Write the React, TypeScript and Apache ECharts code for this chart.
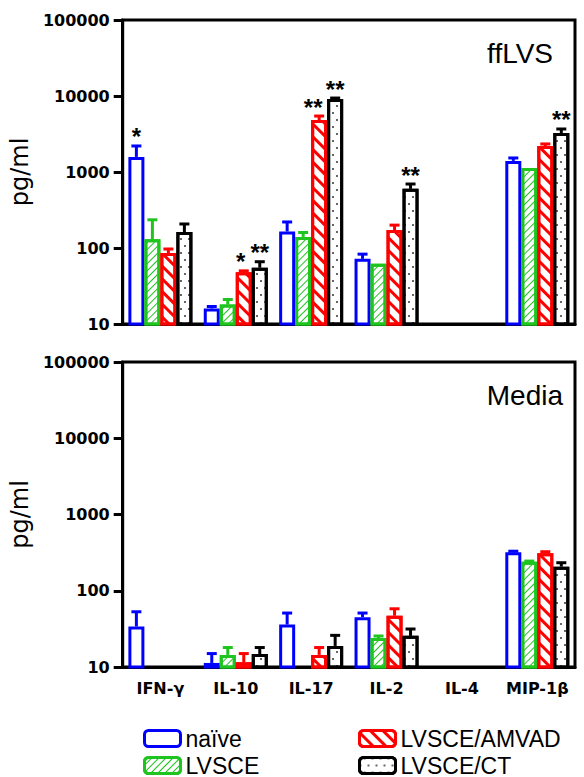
import React, { useEffect, useRef } from "react";
import * as echarts from "echarts";

// ---------- data ----------
const categories = ["IFN-γ", "IL-10", "IL-17", "IL-2", "IL-4", "MIP-1β"];
const groupNames = ["naïve", "LVSCE", "LVSCE/AMVAD", "LVSCE/CT"];
const tickValues = [10, 100, 1000, 10000, 100000];

// ffLVS panel (pg/ml), mean and upper error
const ffNaive = [1580, 16, 165, 72, null, 1400];
const ffNaiveErr = [2200, 17, 220, 83, null, 1530];
const ffLvsce = [130, 18, 140, 62, null, 1130];
const ffLvsceErr = [235, 21, 160, 62, null, 1130];
const ffAmvad = [86, 48, 4830, 172, null, 2200];
const ffAmvadErr = [97, 50, 5450, 200, null, 2340];
const ffCt = [162, 55, 9100, 600, null, 3260];
const ffCtErr = [207, 66, 9400, 695, null, 3680];
const ffStarsNaive = ["*", "", "", "", "", ""];
const ffStarsLvsce = ["", "", "", "", "", ""];
const ffStarsAmvad = ["", "*", "**", "", "", ""];
const ffStarsCt = ["", "**", "**", "**", "", "**"];

// Media panel
const mdNaive = [34, 11.3, 36, 45, null, 320];
const mdNaiveErr = [53, 15, 51, 51, null, 330];
const mdLvsce = [null, 14.4, null, 24, null, 240];
const mdLvsceErr = [null, 18, null, 25.5, null, 245];
const mdAmvad = [null, 11.5, 14.4, 47, null, 310];
const mdAmvadErr = [null, 15, 18, 58, null, 325];
const mdCt = [null, 14.8, 18.9, 25.6, null, 207];
const mdCtErr = [null, 18, 26, 31.5, null, 233];
const noStars = ["", "", "", "", "", ""];

// ---------- styles ----------
const BAR_W = 16;
const colors = ["#0000ff", "#1fc41f", "#ff0000", "#000000"];
const decals: any[] = [
  null,
  { symbol: "rect", symbolSize: 1, color: colors[1], dashArrayX: [1, 0], dashArrayY: [1, 4], rotation: -Math.PI / 4 },
  { symbol: "rect", symbolSize: 1, color: colors[2], dashArrayX: [1, 0], dashArrayY: [3, 6], rotation: Math.PI / 4 },
  { symbol: "rect", symbolSize: 0.8, color: colors[3], dashArrayX: [[2, 6], [0, 4, 2, 2]], dashArrayY: [2, 5], rotation: 0 },
];

const SANS = '"Liberation Sans", Arial, sans-serif';
const DEJA = '"DejaVu Sans", sans-serif';

function buildItems(means: any[][], errs: any[][], stars: string[][]) {
  const items: any[] = [];
  for (let g = 0; g < means.length; g++) {
    for (let c = 0; c < categories.length; c++) {
      const v = means[g][c];
      if (v == null) continue;
      const neighborStar = g + 1 < stars.length && !!stars[g + 1][c];
      items.push({ cat: c, g, val: v, err: errs[g][c], star: stars[g][c], neighborStar });
    }
  }
  return items;
}

function panelSeries(gridIdx: number, means: any[][], errs: any[][], stars: string[][]) {
  const bars = means.map((m, g) => ({
    type: "bar",
    name: groupNames[g],
    xAxisIndex: gridIdx,
    yAxisIndex: gridIdx,
    data: m.map((v) => (v == null ? "-" : v)),
    barWidth: BAR_W,
    barGap: "0%",
    clip: true,
    itemStyle: {
      color: "#ffffff",
      borderColor: colors[g],
      borderWidth: 3,
      decal: decals[g] || undefined,
    },
    emphasis: { disabled: true },
    z: 2,
  }));
  const items = buildItems(means, errs, stars);
  const custom = {
    type: "custom",
    xAxisIndex: gridIdx,
    yAxisIndex: gridIdx,
    data: items.map((it) => [it.cat, it.val, it.err == null ? it.val : it.err]),
    z: 3,
    silent: true,
    renderItem: (params: any, api: any) => {
      const it = items[params.dataIndex];
      const base = api.coord([it.cat, it.val]);
      const x = base[0] + (it.g - 1.5) * BAR_W;
      const col = colors[it.g];
      const children: any[] = [];
      let topY = base[1];
      if (it.err != null && it.err > it.val) {
        const e = api.coord([it.cat, it.err]);
        children.push({ type: "line", shape: { x1: x, y1: base[1], x2: x, y2: e[1] }, style: { stroke: col, lineWidth: 3 } });
        children.push({ type: "line", shape: { x1: x - 5, y1: e[1], x2: x + 5, y2: e[1] }, style: { stroke: col, lineWidth: 3 } });
        topY = e[1];
      }
      if (it.star) {
        const shift = it.neighborStar ? -3 * it.star.length : 0;
        children.push({
          type: "text",
          x: x + shift,
          y: topY - 9,
          style: { text: it.star, fill: "#000", font: `bold 24px ${SANS}`, align: "center", verticalAlign: "middle" },
        });
      }
      return { type: "group", children };
    },
  };
  return [...bars, custom];
}

function yAxisDef(gridIdx: number) {
  return {
    type: "log",
    logBase: 10,
    min: tickValues[0],
    max: tickValues[tickValues.length - 1],
    gridIndex: gridIdx,
    name: "pg/ml",
    nameLocation: "middle",
    nameRotate: 90,
    nameGap: 80,
    nameTextStyle: { fontFamily: DEJA, fontSize: 24, color: "#000" },
    axisLine: { show: true, lineStyle: { color: "#000", width: 3 } },
    axisTick: { show: true, inside: false, length: 9, lineStyle: { color: "#000", width: 3 } },
    minorTick: { show: false },
    splitLine: { show: false },
    axisLabel: {
      margin: 13,
      color: "#000",
      fontFamily: DEJA,
      fontWeight: "bold",
      fontSize: 16,
      formatter: (v: number) => String(Math.round(v)),
    },
  };
}

function xAxisDef(gridIdx: number, showLabels: boolean) {
  return {
    type: "category",
    gridIndex: gridIdx,
    data: categories,
    boundaryGap: true,
    axisLine: { show: true, lineStyle: { color: "#000", width: 3 } },
    axisTick: { show: false },
    splitLine: { show: false },
    axisLabel: {
      show: showLabels,
      interval: 0,
      margin: 13,
      color: "#000",
      fontFamily: DEJA,
      fontWeight: "bold",
      fontSize: 16,
    },
  };
}

function legendDef(name: string, left: number, top: number) {
  return {
    data: [name],
    orient: "vertical",
    left,
    top,
    padding: 0,
    itemWidth: 36,
    itemHeight: 16,
    selectedMode: false,
    itemStyle: { borderWidth: 3 },
    textStyle: { fontFamily: SANS, fontSize: 23, color: "#000", lineHeight: 22 },
  };
}

export default function App() {
  const ref = useRef<HTMLDivElement>(null);
  useEffect(() => {
    if (!ref.current) return;
    const chart = echarts.init(ref.current, null, { renderer: "svg" });
    const gridCommon = { left: 119, right: 9, show: true, borderColor: "#000", borderWidth: 3, backgroundColor: "transparent", containLabel: false };
    const option: any = {
      animation: false,
      backgroundColor: "#ffffff",
      title: [
        { text: "ffLVS", right: 31, top: 39, padding: 0, textStyle: { fontFamily: SANS, fontSize: 28, fontWeight: "normal", color: "#000" } },
        { text: "Media", right: 21, top: 381, padding: 0, textStyle: { fontFamily: SANS, fontSize: 28, fontWeight: "normal", color: "#000" } },
      ],
      legend: [
        legendDef(groupNames[0], 143, 727),
        legendDef(groupNames[1], 143, 754),
        legendDef(groupNames[2], 358, 727),
        legendDef(groupNames[3], 358, 754),
      ],
      grid: [
        { ...gridCommon, top: 20, height: 304 },
        { ...gridCommon, top: 362, height: 305 },
      ],
      xAxis: [xAxisDef(0, false), xAxisDef(1, true)],
      yAxis: [yAxisDef(0), yAxisDef(1)],
      series: [
        ...panelSeries(0, [ffNaive, ffLvsce, ffAmvad, ffCt], [ffNaiveErr, ffLvsceErr, ffAmvadErr, ffCtErr], [ffStarsNaive, ffStarsLvsce, ffStarsAmvad, ffStarsCt]),
        ...panelSeries(1, [mdNaive, mdLvsce, mdAmvad, mdCt], [mdNaiveErr, mdLvsceErr, mdAmvadErr, mdCtErr], [noStars, noStars, noStars, noStars]),
      ],
    };
    chart.setOption(option);
    return () => chart.dispose();
  }, []);
  return <div ref={ref} style={{ position: "absolute", left: 0, top: 0, width: 584, height: 777 }} />;
}
